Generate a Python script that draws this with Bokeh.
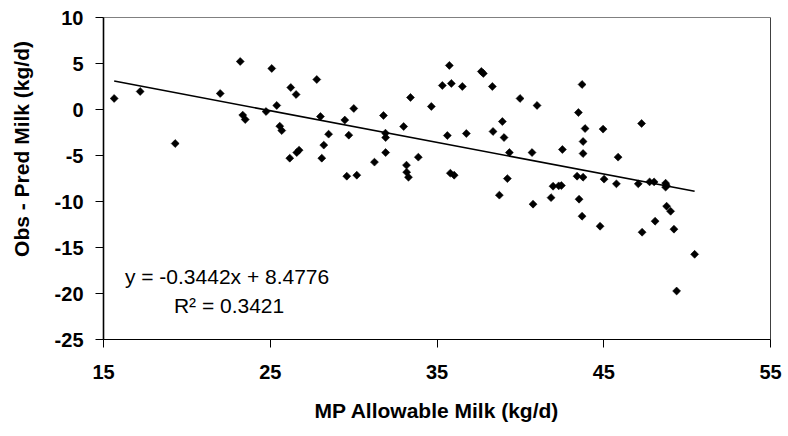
import math
from bokeh.plotting import figure
from bokeh.layouts import row
from bokeh.models import Label, Span, FixedTicker
from bokeh.embed import file_html
from bokeh.resources import INLINE

mp_allowable = [15.64, 17.20, 19.30, 22.00, 23.20, 23.35, 23.50, 24.75, 25.09, 25.39,
                25.57, 25.69, 26.17, 26.23, 26.55, 26.59, 26.73, 27.79, 28.01, 28.09,
                28.21, 28.50, 29.47, 29.71, 30.01, 29.59, 30.19, 31.25, 31.79, 31.91,
                31.92, 31.92, 33.00, 33.17, 33.18, 33.29, 33.41, 33.88, 34.66, 35.32,
                35.74, 35.86, 35.62, 35.80, 36.03, 36.52, 36.76, 37.66, 37.78, 38.32,
                38.36, 38.92, 39.02, 39.34, 39.22, 38.74, 39.98, 41.00, 40.70, 40.76,
                41.84, 41.96, 42.30, 42.46, 42.52, 43.70, 43.48, 43.88, 43.76, 43.76,
                43.40, 43.76, 43.52, 44.96, 45.02, 45.76, 45.86, 47.07, 47.27, 47.75,
                48.02, 48.71, 48.71, 48.75, 48.77, 49.01, 49.21, 50.45, 49.37, 43.70,
                44.78, 47.30, 48.08]
obs_minus_pred = [1.20, 1.96, -3.70, 1.74, 5.22, -0.61, -1.09, -0.22, 4.46, 0.44,
                  -1.81, -2.29, -5.29, 2.39, 1.63, -4.68, -4.42, 3.26, -0.76, -5.29,
                  -3.87, -2.68, -1.15, -2.79, 0.11, -7.25, -7.14, -5.72, -0.65, -2.57,
                  -3.05, -4.68, -1.85, -6.05, -6.81, -7.36, 1.31, -5.18, 0.33, 2.61,
                  4.79, 2.83, -2.83, -6.92, -7.14, 2.50, -2.61, 4.13, 3.92, 2.50,
                  -2.39, -1.31, -3.05, -4.68, -7.51, -9.31, 1.20, 0.44, -4.68, -10.29,
                  -9.58, -8.34, -8.30, -8.27, -4.35, 2.72, -0.33, -2.07, -3.48, -4.79,
                  -7.25, -7.36, -9.75, -2.13, -7.57, -8.08, -5.18, -8.08, -1.52, -7.87,
                  -7.87, -8.01, -8.44, -8.23, -10.51, -11.06, -13.01, -15.74, -19.73, -11.60,
                  -12.69, -13.34, -12.14]

slope = -0.3442
intercept = 8.4776
r_squared = 0.3421

x_ticks = [15, 25, 35, 45, 55]
y_ticks = [10, 5, 0, -5, -10, -15, -20, -25]

x_title = "MP Allowable Milk (kg/d)"
y_title = "Obs - Pred Milk (kg/d)"

FONT = "Liberation Sans"

# narrow strip holding the vertical axis title
tf = figure(width=40, height=436, output_backend="svg", toolbar_location=None,
            x_range=(0, 40), y_range=(0, 436), x_axis_type=None, y_axis_type=None,
            min_border=0)
tf.outline_line_color = None
tf.grid.visible = False
tf.add_layout(Label(x=21, y=258, text=y_title, angle=math.pi / 2,
                    text_align="center", text_baseline="middle",
                    text_font=FONT, text_font_style="bold", text_font_size="21px",
                    text_color="black"))

p = figure(width=748, height=436, output_backend="svg", toolbar_location=None,
           x_range=(15, 55), y_range=(-25, 10),
           min_border_left=63, min_border_right=18, min_border_top=17, min_border_bottom=97)
p.background_fill_color = "white"
p.border_fill_color = "white"
p.outline_line_color = "#808080"
p.outline_line_width = 1
p.grid.visible = False

p.add_layout(Span(location=55, dimension="height", line_color="black", line_width=1))

p.scatter(mp_allowable, obs_minus_pred, marker="square", angle=math.pi / 4, size=5.6,
          fill_color="black", line_color="black", line_width=0.6)

x0, x1 = min(mp_allowable), max(mp_allowable)
p.line([x0, x1], [slope * x0 + intercept, slope * x1 + intercept],
       line_color="black", line_width=1.6)

p.xaxis.ticker = FixedTicker(ticks=x_ticks)
p.yaxis.ticker = FixedTicker(ticks=y_ticks)
p.xaxis.major_label_overrides = {t: str(t) for t in x_ticks}
p.yaxis.major_label_overrides = {t: str(t) for t in y_ticks}
for ax in (p.xaxis[0], p.yaxis[0]):
    ax.axis_line_color = "black"
    ax.major_tick_line_color = "black"
    ax.major_tick_in = 0
    ax.major_tick_out = 8
    ax.minor_tick_line_color = None
    ax.major_label_text_font = FONT
    ax.major_label_text_font_style = "bold"
    ax.major_label_text_font_size = "20px"
    ax.major_label_text_color = "black"
    ax.axis_label_text_font = FONT
    ax.axis_label_text_font_style = "bold"
    ax.axis_label_text_font_size = "21px"
    ax.axis_label_text_color = "black"
p.xaxis.axis_line_width = 1
p.yaxis.axis_line_width = 1.6

p.xaxis.axis_label = x_title
p.xaxis.major_label_standoff = 17
p.xaxis.axis_label_standoff = 17
p.yaxis.major_label_standoff = 12

p.add_layout(Label(x=22.41, y=-18.2, text=f"y = {slope}x + {intercept}",
                   text_align="center", text_baseline="alphabetic",
                   text_font=FONT, text_font_size="21px", text_color="black"))
p.add_layout(Label(x=22.53, y=-21.25, text=f"R\u00b2 = {r_squared}",
                   text_align="center", text_baseline="alphabetic",
                   text_font=FONT, text_font_size="21px", text_color="black"))

layout = row(tf, p, spacing=0)
open("out.html", "w").write(file_html(layout, INLINE))
